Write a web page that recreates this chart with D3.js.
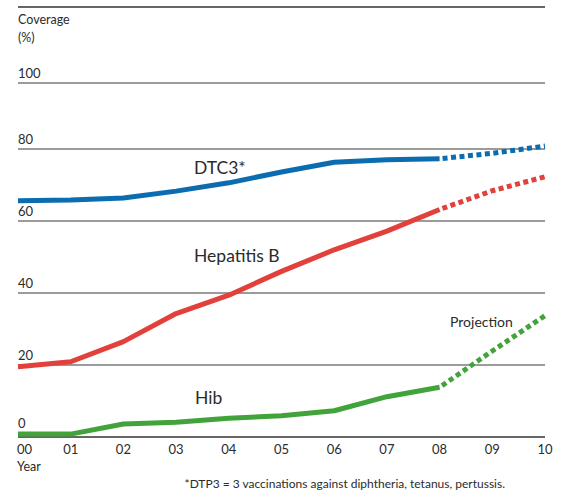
<!DOCTYPE html>
<html><head><meta charset="utf-8">
<script src="https://cdn.jsdelivr.net/npm/d3@7"></script>
<style>
html,body{margin:0;padding:0;background:#fff;}
svg{display:block;}
text{font-family:Lato,"Open Sans",sans-serif;fill:#2b2b2b;}
</style></head>
<body>
<svg id="chart" width="561" height="501"></svg>
<script>
const years = ["00","01","02","03","04","05","06","07","08","09","10"];
const yTicks = [0,20,40,60,80,100];
const dtc3 = [65.6,65.8,66.4,68.3,70.6,73.6,76.3,77.0,77.3,78.8,80.9];
const hepB = [19.5,20.9,26.5,34.3,39.4,46.0,52.0,57.2,63.2,68.4,72.3];
const hib  = [0.8,0.8,3.6,4.1,5.2,5.9,7.3,11.2,13.8,23.9,33.7];
const lastActual = 8; // index of 08, after which values are projections
const seriesNames = ["DTC3*","Hepatitis B","Hib"];
const seriesColors = ["#0b6daf","#e2403a","#43a33b"];

const svg = d3.select("#chart");
const x = d3.scaleLinear().domain([0, years.length-1]).range([18,545]);
const y = d3.scaleLinear().domain([0,80,100]).range([437,149,83]);

// top rule
svg.append("line").attr("x1",18).attr("x2",545).attr("y1",7).attr("y2",7)
  .attr("stroke","#333").attr("stroke-width",1.5);

// gridlines + labels
yTicks.forEach(t=>{
  svg.append("line").attr("x1",18).attr("x2",545)
    .attr("y1",y(t)).attr("y2",y(t))
    .attr("stroke", t===0 ? "#333" : "#7a7a7a").attr("stroke-width",1.5);
  svg.append("text").attr("x",18).attr("y",y(t)-(t===0 ? 9 : 5))
    .attr("font-size",13).text(t);
});

svg.append("text").attr("x",18).attr("y",24).attr("font-size",12.5).text("Coverage");
svg.append("text").attr("x",18).attr("y",42).attr("font-size",12.5).text("(%)");

// x labels
years.forEach((yr,i)=>{
  svg.append("text").attr("x", i===0 ? 17 : x(i)).attr("y",454)
    .attr("text-anchor", i===0 ? "start" : "middle")
    .attr("font-size",13).text(yr);
});
svg.append("text").attr("x",17).attr("y",471).attr("font-size",12.5).text("Year");

svg.append("text").attr("x",505).attr("y",488).attr("text-anchor","end")
  .attr("font-size",12).text("*DTP3 = 3 vaccinations against diphtheria, tetanus, pertussis.");

const line = d3.line().x(d=>x(d[0])).y(d=>y(d[1]));
[dtc3,hepB,hib].forEach((s,k)=>{
  const pts = s.map((v,i)=>[i,v]);
  svg.append("path").attr("d", line(pts.slice(0,lastActual+1)))
    .attr("fill","none").attr("stroke",seriesColors[k]).attr("stroke-width",5)
    .attr("stroke-linejoin","round");
  svg.append("path").attr("d", line(pts.slice(lastActual)))
    .attr("fill","none").attr("stroke",seriesColors[k]).attr("stroke-width",5)
    .attr("stroke-dasharray","5,3.5").attr("stroke-dashoffset",-3);
});

// series labels
const labelPos = [[194,174],[194,262],[195,404]];
seriesNames.forEach((n,k)=>{
  svg.append("text").attr("x",labelPos[k][0]).attr("y",labelPos[k][1])
    .attr("font-size",17.5).text(n);
});
svg.append("text").attr("x",450).attr("y",327).attr("font-size",14).text("Projection");
</script>
</body></html>
